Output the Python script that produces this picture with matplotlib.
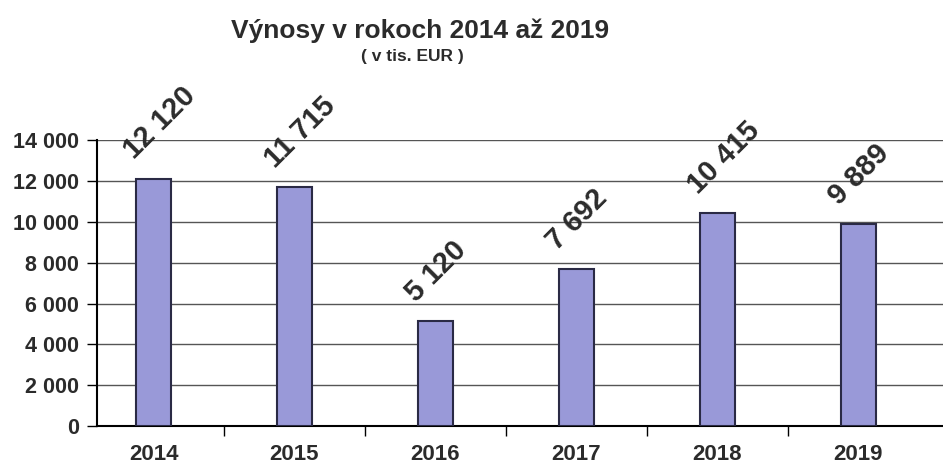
import matplotlib.pyplot as plt
import numpy as np

plt.rcParams['font.family'] = ['Liberation Sans', 'DejaVu Sans']

roky = ['2014', '2015', '2016', '2017', '2018', '2019']
vynosy = [12120, 11715, 5120, 7692, 10415, 9889]
popisky = ['12 120', '11 715', '5 120', '7 692', '10 415', '9 889']
y_ticky = [0, 2000, 4000, 6000, 8000, 10000, 12000, 14000]
y_popisky = ['0', '2 000', '4 000', '6 000', '8 000', '10 000', '12 000', '14 000']

fig = plt.figure(figsize=(9.43, 4.75), dpi=100)
ax = fig.add_axes([0.103, 0.103, 0.897, 0.602])

x = np.arange(len(roky))
ax.set_axisbelow(True)
ax.yaxis.grid(True, color='#555555', lw=1)
ax.bar(x, vynosy, width=0.25, color='#9999d8', edgecolor='#2a2a45', lw=1.5, zorder=3)

# popisky hodnot nad stlpcami
for xi, v, t in zip(x, vynosy, popisky):
    ax.annotate(t, (xi, v), xytext=(-11, 10), textcoords='offset points',
                rotation=45, rotation_mode='anchor', ha='left', va='bottom',
                fontsize=21, fontweight='bold', color='#2b2b2b')

ax.set_xlim(-0.4, 5.6)
ax.set_ylim(0, 14000)
ax.set_yticks(y_ticky)
ax.set_yticklabels(y_popisky, fontsize=15.5, fontweight='bold', color='#2b2b2b')
ax.set_xticks(x)
ax.set_xticklabels(roky, fontsize=16, fontweight='bold', color='#2b2b2b')
ax.tick_params(axis='x', length=0, pad=13)
ax.tick_params(axis='y', length=7, width=1, pad=6)
ax.set_xticks(x[:-1] + 0.5, minor=True)
ax.tick_params(axis='x', which='minor', length=7, width=1)

for s in ['top', 'right']:
    ax.spines[s].set_visible(False)
ax.spines['left'].set_linewidth(1.5)
ax.spines['bottom'].set_linewidth(1.5)

fig.text(0.445, 0.935, 'Výnosy v rokoch 2014 až 2019', ha='center', va='center',
         fontsize=19, fontweight='bold', color='#2b2b2b')
fig.text(0.437, 0.88, '( v tis. EUR )', ha='center', va='center',
         fontsize=12.5, fontweight='bold', color='#2b2b2b')

fig.savefig('out.png', dpi=100)
